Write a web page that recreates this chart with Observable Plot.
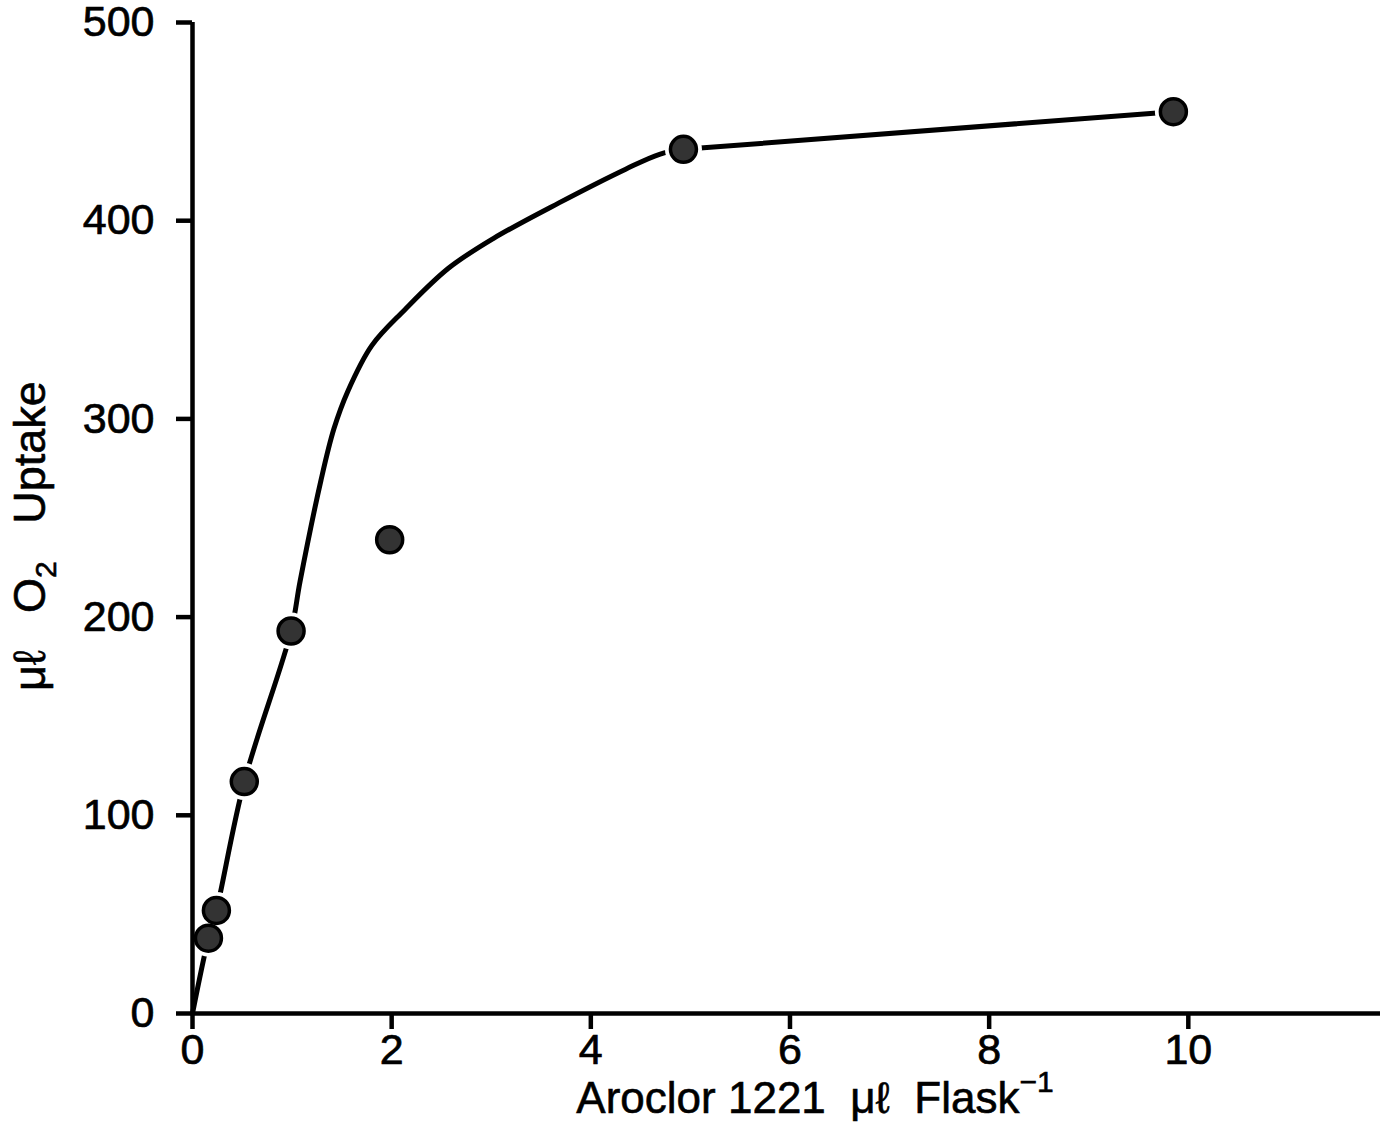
<!DOCTYPE html>
<html>
<head>
<meta charset="utf-8">
<script src="https://cdn.jsdelivr.net/npm/d3@7"></script>
<script src="https://cdn.jsdelivr.net/npm/@observablehq/plot@0.6"></script>
<style>
  html, body { margin: 0; padding: 0; background: #fff; }
  #chart svg { display: block; }
</style>
</head>
<body>
<div id="chart"></div>
<script>
// Tick values
const xTicks = [0, 2, 4, 6, 8, 10];
const yTicks = [0, 100, 200, 300, 400, 500];

// Measured points: Aroclor 1221 (µl/flask) vs O2 uptake (µl)
const doseX   = [0.16, 0.24, 0.52, 0.99, 1.98, 4.93, 9.85];
const uptakeY = [38, 52, 117, 193, 239, 436, 455];

// Hand-drawn fitted curve (rising part)
const curveX = [0, 0.16, 0.24, 0.52, 0.99, 1.08, 1.29, 1.42, 1.56, 1.80, 2.13, 2.57, 3.02, 3.68, 4.35, 4.69, 4.93];
const curveY = [0, 38, 52, 117, 193, 218, 269, 295, 314, 337, 355, 376, 391, 409, 426, 433.5, 436];
// Straight plateau segment of the curve
const tailX = [4.93, 9.85];
const tailY = [436, 455];

const xDomain = [0, 11.93];
const yDomain = [0, 500];

const points = doseX.map((x, i) => ({x, y: uptakeY[i]}));
const curve = curveX.map((x, i) => ({x, y: curveY[i]}));
const tail = tailX.map((x, i) => ({x, y: tailY[i]}));

const FONT = "'Liberation Sans', Arial, Helvetica, sans-serif";

const svg = Plot.plot({
  width: 1394,
  height: 1143,
  marginLeft: 192,
  marginRight: 14,
  marginTop: 22,
  marginBottom: 130,
  x: {domain: xDomain},
  y: {domain: yDomain},
  style: {fontFamily: FONT, fontSize: "43px", background: "#fff", color: "#000", overflow: "visible"},
  marks: [
    Plot.line(curve, {x: "x", y: "y", stroke: "#000", strokeWidth: 5, curve: "catmull-rom"}),
    Plot.line(tail, {x: "x", y: "y", stroke: "#000", strokeWidth: 5}),
    Plot.dot(points, {x: "x", y: "y", r: 18.5, fill: "#fff", stroke: "none"}),
    Plot.ruleX([0], {stroke: "#000", strokeWidth: 4.5}),
    Plot.ruleY([0], {stroke: "#000", strokeWidth: 4.5}),
    Plot.axisX({ticks: xTicks, tickSize: 16, tickPadding: 4, strokeWidth: 4.5, label: null, fontSize: 43}),
    Plot.axisY({ticks: yTicks, tickSize: 16, tickPadding: 22, strokeWidth: 4.5, label: null, fontSize: 43}),
    Plot.dot(points, {x: "x", y: "y", r: 13, fill: "#333", stroke: "#000", strokeWidth: 3.5})
  ]
});

// Slightly heavier tick labels, like the printed figure
d3.select(svg).selectAll("g[aria-label$='tick label'] text")
  .attr("stroke", "#000").attr("stroke-width", 0.7);

// Axis titles with sub/superscripts
const s = d3.select(svg);
const xt = s.append("text")
  .attr("x", 815).attr("y", 1113)
  .attr("text-anchor", "middle")
  .attr("font-family", FONT).attr("font-size", 44).attr("fill", "#000")
  .attr("stroke", "#000").attr("stroke-width", 0.6)
  .attr("xml:space", "preserve");
xt.append("tspan").text("Aroclor 1221  \u03bc\u2113  Flask");
xt.append("tspan").attr("font-size", 30).attr("dy", -21).text("\u22121");

const yt = s.append("text")
  .attr("transform", "translate(45,536) rotate(-90)")
  .attr("text-anchor", "middle")
  .attr("font-family", FONT).attr("font-size", 45).attr("fill", "#000")
  .attr("stroke", "#000").attr("stroke-width", 0.6)
  .attr("xml:space", "preserve");
yt.append("tspan").text("\u03bc\u2113   O");
yt.append("tspan").attr("font-size", 30).attr("dy", 11).text("2");
yt.append("tspan").attr("dy", -11).text("   Uptake");

document.getElementById("chart").appendChild(svg);
</script>
</body>
</html>
